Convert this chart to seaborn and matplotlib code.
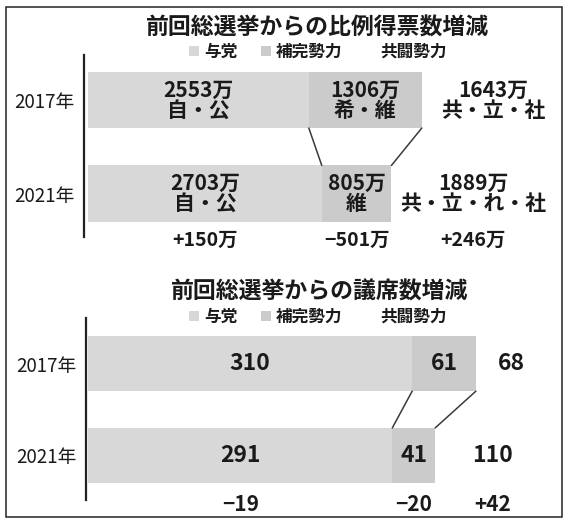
import matplotlib
matplotlib.use("Agg")
import matplotlib.pyplot as plt
import seaborn as sns
import pandas as pd
from matplotlib.patches import Patch, Rectangle

# Data
years = ["2017年", "2021年"]
legend_labels = ["与党", "補完勢力", "共闘勢力"]

# proportional-representation votes (万)
votes_ruling = [2553, 2703]
votes_hokan = [1306, 805]
votes_joint = [1643, 1889]
votes_ruling_names = ["自・公", "自・公"]
votes_hokan_names = ["希・維", "維"]
votes_joint_names = ["共・立・社", "共・立・れ・社"]
votes_diff = ["+150万", "−501万", "+246万"]

# seats
seats_ruling = [310, 291]
seats_hokan = [61, 41]
seats_joint = [68, 110]
seats_diff = ["−19", "−20", "+42"]

ruling_color = "#d8d8d8"
hokan_color = "#cbcbcb"
joint_color = "white"
text_color = "#1a1a1a"

sns.set_theme(style="white")
plt.rcParams["font.family"] = ["Noto Sans CJK JP", "DejaVu Sans"]

W, H = 569, 521
fig = plt.figure(figsize=(W / 100, H / 100), dpi=100)


def px_axes(left, top, bottom):
    return fig.add_axes([left / W, 1 - bottom / H, (W - left) / W, (bottom - top) / H])


def draw_panel(ax, ruling, hokan, joint, fmt, names=None, bar_fs=14):
    df = pd.DataFrame({"year": years, "ruling": ruling, "hokan": hokan, "joint": joint})
    df["c1"] = df["ruling"]
    df["c2"] = df["c1"] + df["hokan"]
    df["c3"] = df["c2"] + df["joint"]

    # stacked bars: draw the cumulative totals from longest to shortest
    for col, colr in [("c3", joint_color), ("c2", hokan_color), ("c1", ruling_color)]:
        sns.barplot(data=df, y="year", x=col, orient="h", color=colr, saturation=1,
                    width=0.6, errorbar=None, linewidth=0, ax=ax)

    # connector lines between segment ends
    for col in ["c1", "c2"]:
        ax.plot([df[col][0], df[col][1]], [0.3, 0.7], color="#3a3a3a", lw=1.1)

    # value labels, centred in each segment
    for i in range(len(years)):
        starts = [0, df["c1"][i], df["c2"][i]]
        vals = [ruling[i], hokan[i], joint[i]]
        for k in range(3):
            s = fmt(vals[k])
            if names is not None:
                s = s + "\n" + names[k][i]
            xc = starts[k] + vals[k] / 2
            ax.text(xc, i, s, ha="center", va="center", fontsize=bar_fs,
                    fontweight="bold", color=text_color, linespacing=0.95)
    return df


# ---------- top panel: votes ----------
ax1 = px_axes(84, 55, 237)
df1 = draw_panel(ax1, votes_ruling, votes_hokan, votes_joint, lambda v: f"{v}万",
                 names=[votes_ruling_names, votes_hokan_names, votes_joint_names], bar_fs=15)
ax1.set_xlim(-46, 5561)
ax1.set_ylim(1.465, -0.481)
starts1 = [0, df1["c1"][1], df1["c2"][1]]
vals1 = [votes_ruling[1], votes_hokan[1], votes_joint[1]]
for k in range(3):
    ax1.text(starts1[k] + vals1[k] / 2, 1.5, votes_diff[k], ha="center", va="center",
             fontsize=14, fontweight="bold", color=text_color)

# ---------- bottom panel: seats ----------
ax2 = px_axes(86, 318, 500)
df2 = draw_panel(ax2, seats_ruling, seats_hokan, seats_joint, lambda v: f"{v}", bar_fs=16.5)
ax2.set_xlim(-2, 460)
ax2.set_ylim(1.484, -0.495)
starts2 = [0, df2["c1"][1], df2["c2"][1]]
vals2 = [seats_ruling[1], seats_hokan[1], seats_joint[1]]
for k in range(3):
    ax2.text(starts2[k] + vals2[k] / 2, 1.53, seats_diff[k], ha="center", va="center",
             fontsize=15, fontweight="bold", color=text_color)

for ax in (ax1, ax2):
    for side in ["top", "right", "bottom"]:
        ax.spines[side].set_visible(False)
    ax.spines["left"].set_color("#222222")
    ax.spines["left"].set_linewidth(1.6)
    ax.set_xlabel("")
    ax.set_ylabel("")
    ax.set_xticks([])
    ax.tick_params(axis="y", length=0, pad=7, labelsize=13.5, labelcolor=text_color)
    ax.set_facecolor("none")

# titles and legends
fig.text(318 / W, 1 - 28 / H, "前回総選挙からの比例得票数増減", ha="center", va="center",
         fontsize=16.5, fontweight="bold", color=text_color)
fig.text(320 / W, 1 - 292 / H, "前回総選挙からの議席数増減", ha="center", va="center",
         fontsize=16.5, fontweight="bold", color=text_color)

handles = [Patch(facecolor=c, edgecolor="none") for c in [ruling_color, hokan_color, joint_color]]
for ycen in [52, 317]:
    fig.legend(handles=handles, labels=legend_labels, ncol=3, frameon=False,
               loc="center", bbox_to_anchor=(318 / W, 1 - ycen / H),
               prop={"size": 12, "weight": "bold"}, handlelength=0.6, handleheight=0.6,
               handletextpad=0.3, columnspacing=1.4, labelcolor=text_color)

# outer frame
fig.patches.append(Rectangle((6 / W, 1 - 517 / H), 556 / W, 510 / H, transform=fig.transFigure,
                             fill=False, edgecolor="#333333", linewidth=1.2))

fig.savefig("out.png", dpi=100)
